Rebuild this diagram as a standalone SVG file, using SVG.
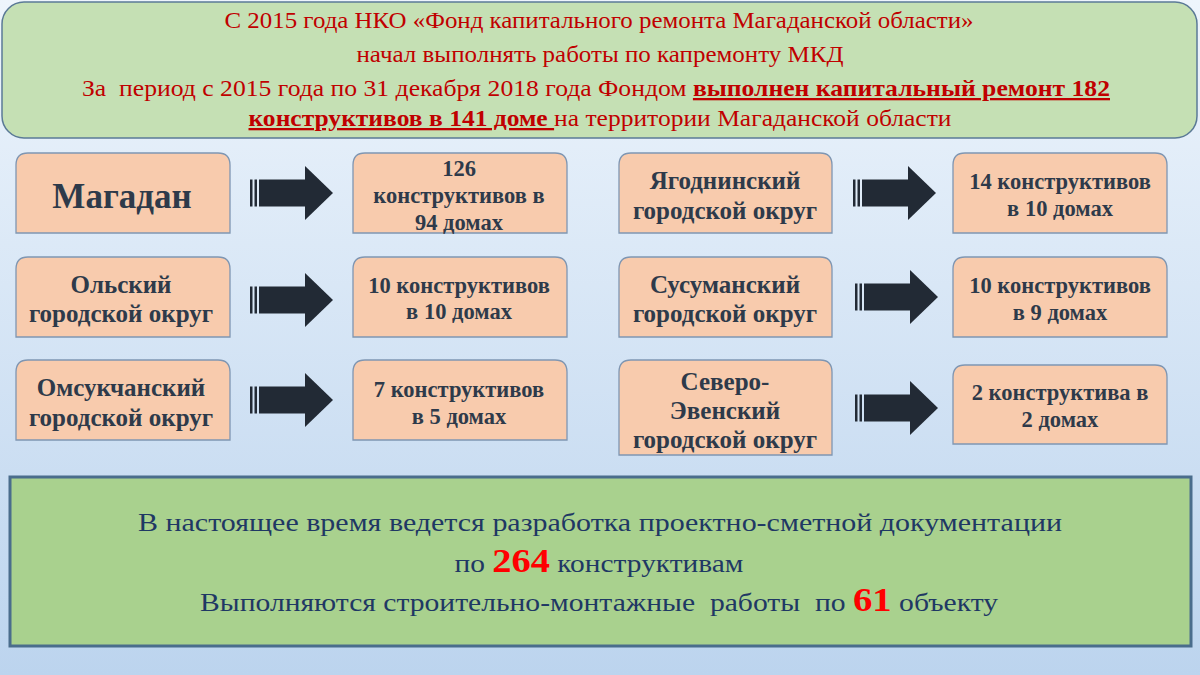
<svg xmlns="http://www.w3.org/2000/svg" width="1200" height="675" viewBox="0 0 1200 675">
<defs>
<linearGradient id="bg" x1="0" y1="0" x2="0" y2="1">
<stop offset="0" stop-color="#eef5fc"/>
<stop offset="1" stop-color="#bcd4ee"/>
</linearGradient>
<g id="arrow">
<rect x="0" y="-13.5" width="2.5" height="27"/>
<rect x="4.5" y="-13.5" width="2.5" height="27"/>
<rect x="9" y="-13.5" width="47" height="27"/>
<polygon points="55,-27 83,0 55,27"/>
</g>
<style>
.top{font-family:"Liberation Serif","Times New Roman",serif;font-size:23px;fill:#c00000;text-anchor:middle}
.topb{font-weight:bold;text-decoration:underline}
.box{fill:#f8cbad;stroke:#7f96b2;stroke-width:1.3}
.lbl{font-family:"Liberation Serif","Times New Roman",serif;font-size:25px;font-weight:bold;fill:#2e3a4a;text-anchor:middle}
.res{font-size:22.5px}
.big{font-size:35px}
.arr{fill:#222a35}
.bot{font-family:"Liberation Serif","Times New Roman",serif;font-size:26px;fill:#1f3864;text-anchor:middle}
.num{font-weight:bold;fill:#ff0000;font-size:34px}
</style>
</defs>
<rect x="0" y="0" width="1200" height="675" fill="url(#bg)"/>

<g id="header">
<rect x="2" y="2" width="1195" height="136" rx="22" fill="#c5e0b4" stroke="#5b7a96" stroke-width="1.5"/>
<text class="top" x="599" y="28" textLength="749" lengthAdjust="spacingAndGlyphs">С 2015 года НКО «Фонд капитального ремонта Магаданской области»</text>
<text class="top" x="600" y="62" textLength="487" lengthAdjust="spacingAndGlyphs">начал выполнять работы по капремонту МКД</text>
<text class="top" x="596" y="96" xml:space="preserve" textLength="1028" lengthAdjust="spacingAndGlyphs">За  период с 2015 года по 31 декабря 2018 года Фондом <tspan class="topb">выполнен капитальный ремонт 182</tspan></text>
<text class="top" x="600" y="126" textLength="703" lengthAdjust="spacingAndGlyphs"><tspan class="topb">конструктивов в 141 доме </tspan>на территории Магаданской области</text>
</g>

<g id="node-magadan">
<path class="box" d="M16,233 V165 Q16,153 28,153 H218 Q230,153 230,165 V233 Z"/>
<text class="lbl big" x="122" y="208">Магадан</text>
</g>
<g id="node-magadan-res">
<path class="box" d="M353,233 V165 Q353,153 365,153 H555 Q567,153 567,165 V233 Z"/>
<text class="lbl res" x="459" y="176">126</text>
<text class="lbl res" x="459" y="203">конструктивов в</text>
<text class="lbl res" x="459" y="230">94 домах</text>
</g>
<g id="node-olsky">
<path class="box" d="M16,337 V269 Q16,257 28,257 H218 Q230,257 230,269 V337 Z"/>
<text class="lbl" x="121" y="293">Ольский</text>
<text class="lbl" x="121" y="322">городской округ</text>
</g>
<g id="node-olsky-res">
<path class="box" d="M353,337 V269 Q353,257 365,257 H555 Q567,257 567,269 V337 Z"/>
<text class="lbl res" x="459" y="293">10 конструктивов</text>
<text class="lbl res" x="459" y="319">в 10 домах</text>
</g>
<g id="node-omsuk">
<path class="box" d="M16,440 V372 Q16,360 28,360 H218 Q230,360 230,372 V440 Z"/>
<text class="lbl" x="121" y="396">Омсукчанский</text>
<text class="lbl" x="121" y="426">городской округ</text>
</g>
<g id="node-omsuk-res">
<path class="box" d="M353,440 V372 Q353,360 365,360 H555 Q567,360 567,372 V440 Z"/>
<text class="lbl res" x="459" y="397">7 конструктивов</text>
<text class="lbl res" x="459" y="424">в 5 домах</text>
</g>
<g id="node-yagod">
<path class="box" d="M619,233 V165 Q619,153 631,153 H820 Q832,153 832,165 V233 Z"/>
<text class="lbl" x="725" y="189">Ягоднинский</text>
<text class="lbl" x="725" y="219">городской округ</text>
</g>
<g id="node-yagod-res">
<path class="box" d="M953,233 V165 Q953,153 965,153 H1155 Q1167,153 1167,165 V233 Z"/>
<text class="lbl res" x="1060" y="189">14 конструктивов</text>
<text class="lbl res" x="1060" y="216">в 10 домах</text>
</g>
<g id="node-susum">
<path class="box" d="M619,337 V269 Q619,257 631,257 H820 Q832,257 832,269 V337 Z"/>
<text class="lbl" x="725" y="293">Сусуманский</text>
<text class="lbl" x="725" y="322">городской округ</text>
</g>
<g id="node-susum-res">
<path class="box" d="M953,337 V269 Q953,257 965,257 H1155 Q1167,257 1167,269 V337 Z"/>
<text class="lbl res" x="1060" y="293">10 конструктивов</text>
<text class="lbl res" x="1060" y="320">в 9 домах</text>
</g>
<g id="node-sever">
<path class="box" d="M619,455 V372 Q619,360 631,360 H820 Q832,360 832,372 V455 Z"/>
<text class="lbl" x="725" y="390">Северо-</text>
<text class="lbl" x="725" y="419">Эвенский</text>
<text class="lbl" x="725" y="448">городской округ</text>
</g>
<g id="node-sever-res">
<path class="box" d="M953,444 V377 Q953,365 965,365 H1155 Q1167,365 1167,377 V444 Z"/>
<text class="lbl res" x="1060" y="400">2 конструктива в</text>
<text class="lbl res" x="1060" y="427">2 домах</text>
</g>

<g id="connectors" class="arr">
<use href="#arrow" x="250" y="193"/>
<use href="#arrow" x="250" y="300"/>
<use href="#arrow" x="250" y="400"/>
<use href="#arrow" x="853" y="193"/>
<use href="#arrow" x="855" y="297"/>
<use href="#arrow" x="855" y="408"/>
</g>

<g id="footer">
<rect x="10" y="477" width="1181" height="169" fill="#a9d18e" stroke="#4a6d8c" stroke-width="3"/>
<text class="bot" x="600" y="531" textLength="924" lengthAdjust="spacingAndGlyphs">В настоящее время ведется разработка проектно-сметной документации</text>
<text class="bot" x="599" y="572" textLength="289" lengthAdjust="spacingAndGlyphs">по <tspan class="num">264</tspan> конструктивам</text>
<text class="bot" x="599" y="611" xml:space="preserve" textLength="798" lengthAdjust="spacingAndGlyphs">Выполняются строительно-монтажные  работы  по <tspan class="num">61</tspan> объекту</text>
</g>
</svg>
